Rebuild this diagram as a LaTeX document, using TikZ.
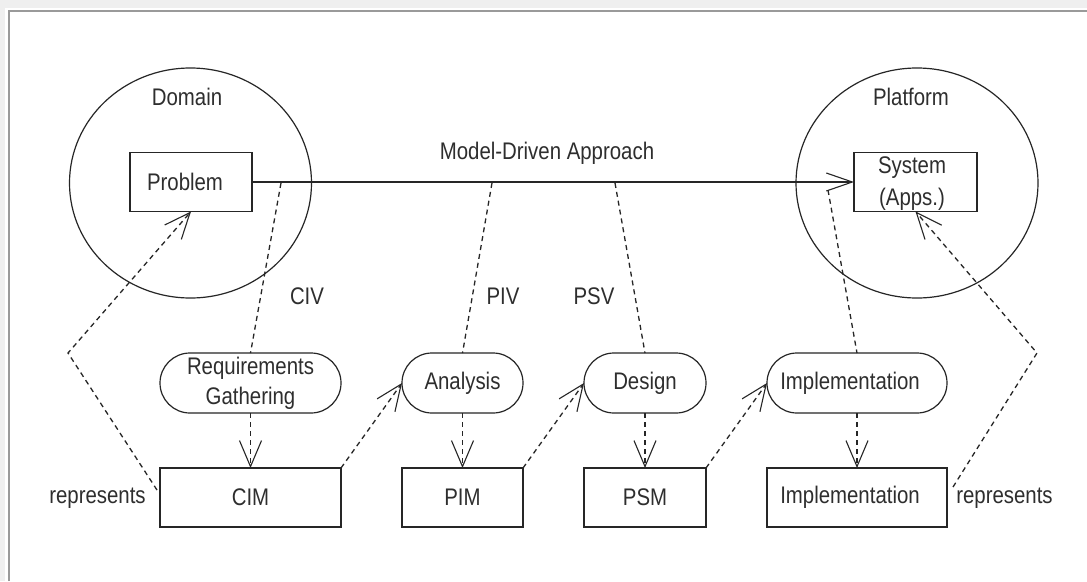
\documentclass[tikz,border=0pt]{standalone}
\usepackage{fontspec}
\setmainfont{Liberation Sans}[FakeStretch=0.85]
\usetikzlibrary{arrows.meta,shapes.geometric,shapes.misc}
\definecolor{ln}{HTML}{262626}
\definecolor{tx}{HTML}{2E2E2E}
\definecolor{band}{HTML}{EFEFEF}
\definecolor{frm}{HTML}{9A9A9A}
\begin{document}
\begin{tikzpicture}[x=1pt,y=-1pt,
  font=\fontsize{24}{31}\selectfont, text=tx,
  every node/.style={inner sep=0pt, outer sep=0pt},
  boxnode/.style={draw=ln, line width=1.2pt, rectangle, minimum height=59pt},
  procnode/.style={draw=ln, line width=1.2pt, rounded rectangle, minimum height=60pt},
  region/.style={draw=ln, line width=1.2pt, ellipse, minimum width=242pt, minimum height=230pt},
  dashline/.style={draw=ln, line width=1.3pt, dash pattern=on 5pt off 4pt},
  openarr/.style={-{Straight Barb[length=26pt,width=22pt,line width=1.1pt]}},
  mainarr/.style={-{Straight Barb[length=26pt,width=18pt,line width=1.1pt]}}
]
\useasboundingbox (0,0) rectangle (1087,581);
\fill[white] (0,0) rectangle (1087,581);
\fill[band] (0,0) rectangle (1087,8);
\fill[band] (0,0) rectangle (5,581);
\draw[frm, line width=2pt] (9,581) -- (9,11) -- (1087,11);

% regions
\node[region] (dom) at (190.5,183) {};
\node[region] (plat) at (917,183) {};
\node (domlbl) at (187,97) {Domain};
\node (platlbl) at (911,97) {Platform};

% top boxes
\node[boxnode, minimum width=122pt] (prob) at (191,182) {};
\node (probtxt) at (185,182) {Problem};
\node[boxnode, minimum width=123pt, align=center] (sys) at (915.5,182) {};
\node[align=center, font=\fontsize{24}{32}\selectfont] (systxt) at (912,184) {System\\(Apps.)};
\node (mda) at (547,153) {Model-Driven Approach};

% processes
\node[procnode, minimum width=181pt, align=center] (req) at (250.5,383) {Requirements\\[-1pt]Gathering};
\node[procnode, minimum width=121pt] (ana) at (462.5,383) {Analysis};
\node[procnode, minimum width=122pt] (des) at (645,383) {Design};
\node[procnode, minimum width=180pt] (imp) at (857,383) {};
\node (imptxt) at (850,383) {Implementation};

% models
\node[boxnode, minimum width=181pt] (cim) at (250.5,497.5) {CIM};
\node[boxnode, minimum width=121pt] (pim) at (462.5,497.5) {PIM};
\node[boxnode, minimum width=122pt] (psm) at (645,497.5) {PSM};
\node[boxnode, minimum width=180pt] (impl) at (857,497.5) {};
\node (impltxt) at (850,497.5) {Implementation};

% view labels
\node (civ) at (307,296) {CIV};
\node (piv) at (503,296) {PIV};
\node (psv) at (594,296) {PSV};
\node (repl) at (97.5,498) {represents};
\node (repr) at (1004.5,498) {represents};

% coordinates on the main line
\coordinate (c1) at (281,183);
\coordinate (c2) at (492,183);
\coordinate (c3) at (615,183);
\coordinate (c4) at (828,190);
\coordinate (lbend) at (68,353);
\coordinate (rbend) at (1037,353);
\coordinate (lstart) at (157,490);
\coordinate (rstart) at (953,487);

% main approach arrow
\draw[ln, line width=1.2pt, mainarr] (prob.east) -- (sys.west);

% view lines
\draw[dashline] (c1) -- (req.north);
\draw[dashline] (c2) -- (ana.north);
\draw[dashline] (c3) -- (des.north);
\draw[dashline] (c4) -- (imp.north);

% process -> model
\draw[dashline, openarr] (req.south) -- (cim.north);
\draw[dashline, openarr] (ana.south) -- (pim.north);
\draw[dashline, openarr] (des.south) -- (psm.north);
\draw[dashline, openarr] (imp.south) -- (impl.north);

% model -> next process
\draw[dashline, openarr] (cim.north east) -- (ana.west);
\draw[dashline, openarr] (pim.north east) -- (des.west);
\draw[dashline, openarr] (psm.north east) -- (imp.west);

% represents
\draw[dashline, openarr] (lstart) -- (lbend) -- (prob.south);
\draw[dashline, openarr] (rstart) -- (rbend) -- (sys.south);
\end{tikzpicture}
\end{document}
